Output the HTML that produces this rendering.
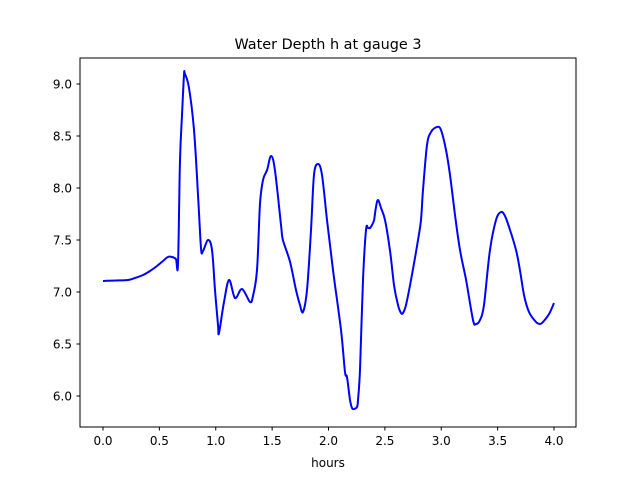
<!DOCTYPE html>
<html><head><meta charset="utf-8"><style>
body{margin:0;background:#fff}
svg{display:block;font-family:"DejaVu Sans","Liberation Sans",sans-serif}
</style></head><body>
<svg width="640" height="480" id="c">
<rect width="640" height="480" fill="#fff"/>
<text x="328" y="49" text-anchor="middle" font-size="14.4">Water Depth h at gauge 3</text>
<text x="328" y="467" text-anchor="middle" font-size="12">hours</text>
<g id="ticks"></g>
<path id="line" fill="none" stroke="#0000ff" stroke-width="2" stroke-linejoin="round"/>
<rect x="80" y="58" width="496" height="369" fill="none" stroke="#000" stroke-width="1"/>
</svg>
<script>
const xTicks=[0,0.5,1,1.5,2,2.5,3,3.5,4];
const xTickLabels=["0.0","0.5","1.0","1.5","2.0","2.5","3.0","3.5","4.0"];
const yTicks=[6,6.5,7,7.5,8,8.5,9];
const yTickLabels=["6.0","6.5","7.0","7.5","8.0","8.5","9.0"];
// pixel-read samples converted into data units
const rawPx=[[103,281],[115,280.5],[128,280],[135,278],[143,275],[150,271],[157,266],[163,261],[168,257],[172,257],[176,259],[178,264],[180,160],[182,115],[184,75],[185,74],[189,88],[194,130],[198,195],[201,248],[203,251],[208,240],[212,250],[215,290],[218,325],[219,333],[224,302],[229,280],[235,298],[242,289],[250,302],[253,296],[257,270],[260,205],[263,180],[267,170],[271,156],[275,170],[281,225],[283,240],[290,262],[296,290],[300,305],[303,312],[307,290],[311,230],[314,175],[318,164],[322,175],[327,220],[333,270],[341,330],[345,372],[347,377],[350,400],[352,408],[354,409],[357,407],[358,400],[360,370],[363,280],[366,230],[368,228],[370,228],[372,225],[374,220],[376,207],[378,200],[381,208],[385,220],[390,250],[394,285],[398,305],[401,313],[403,313],[406,305],[411,280],[418,240],[421,220],[423,190],[427,145],[431,132],[437,127],[441,130],[446,150],[450,175],[455,215],[460,250],[466,280],[473,320],[476,324],[480,320],[484,305],[490,250],[496,220],[501,212],[505,216],[510,230],[516,250],[520,270],[524,295],[529,312],[536,322],[540,324],[543,322],[549,314],[554,303]];
const hours=rawPx.map(p=>+((p[0]-103)/112.75).toFixed(3));
const depth=rawPx.map(p=>+(9-(p[1]-84)/104).toFixed(3));
const X=v=>103+v*112.75, Y=v=>84+(9-v)*104;
const NS="http://www.w3.org/2000/svg", g=document.getElementById('ticks');
function mk(t,a){const e=document.createElementNS(NS,t);for(const k in a)e.setAttribute(k,a[k]);g.appendChild(e);return e;}
xTicks.forEach((v,i)=>{const x=X(v);
 const l=mk('line',{x1:x,x2:x,y1:427,y2:430.5,stroke:'#000'});
 
 
 const t=mk('text',{x:x,y:445,'text-anchor':'middle','font-size':12});t.textContent=xTickLabels[i];
 
 });
yTicks.forEach((v,i)=>{const y=Y(v);
 const l=mk('line',{x1:76.5,x2:80,y1:y,y2:y,stroke:'#000'});
 
 
 const t=mk('text',{x:72,y:y+4.5,'text-anchor':'end','font-size':12});t.textContent=yTickLabels[i];
 
 });
const P=hours.map((h,i)=>[X(h),Y(depth[i])]);
let d='M'+P[0][0].toFixed(1)+','+P[0][1].toFixed(1);
for(let i=0;i<P.length-1;i++){
 const p0=P[Math.max(0,i-1)],p1=P[i],p2=P[i+1],p3=P[Math.min(P.length-1,i+2)];
 const k=1/6;
 const c1=[p1[0]+(p2[0]-p0[0])*k,p1[1]+(p2[1]-p0[1])*k];
 const c2=[p2[0]-(p3[0]-p1[0])*k,p2[1]-(p3[1]-p1[1])*k];
 d+='C'+c1.map(v=>v.toFixed(1)).join(',')+' '+c2.map(v=>v.toFixed(1)).join(',')+' '+p2.map(v=>v.toFixed(1)).join(',');
}
document.getElementById('line').setAttribute('d',d);
</script>
</body></html>
